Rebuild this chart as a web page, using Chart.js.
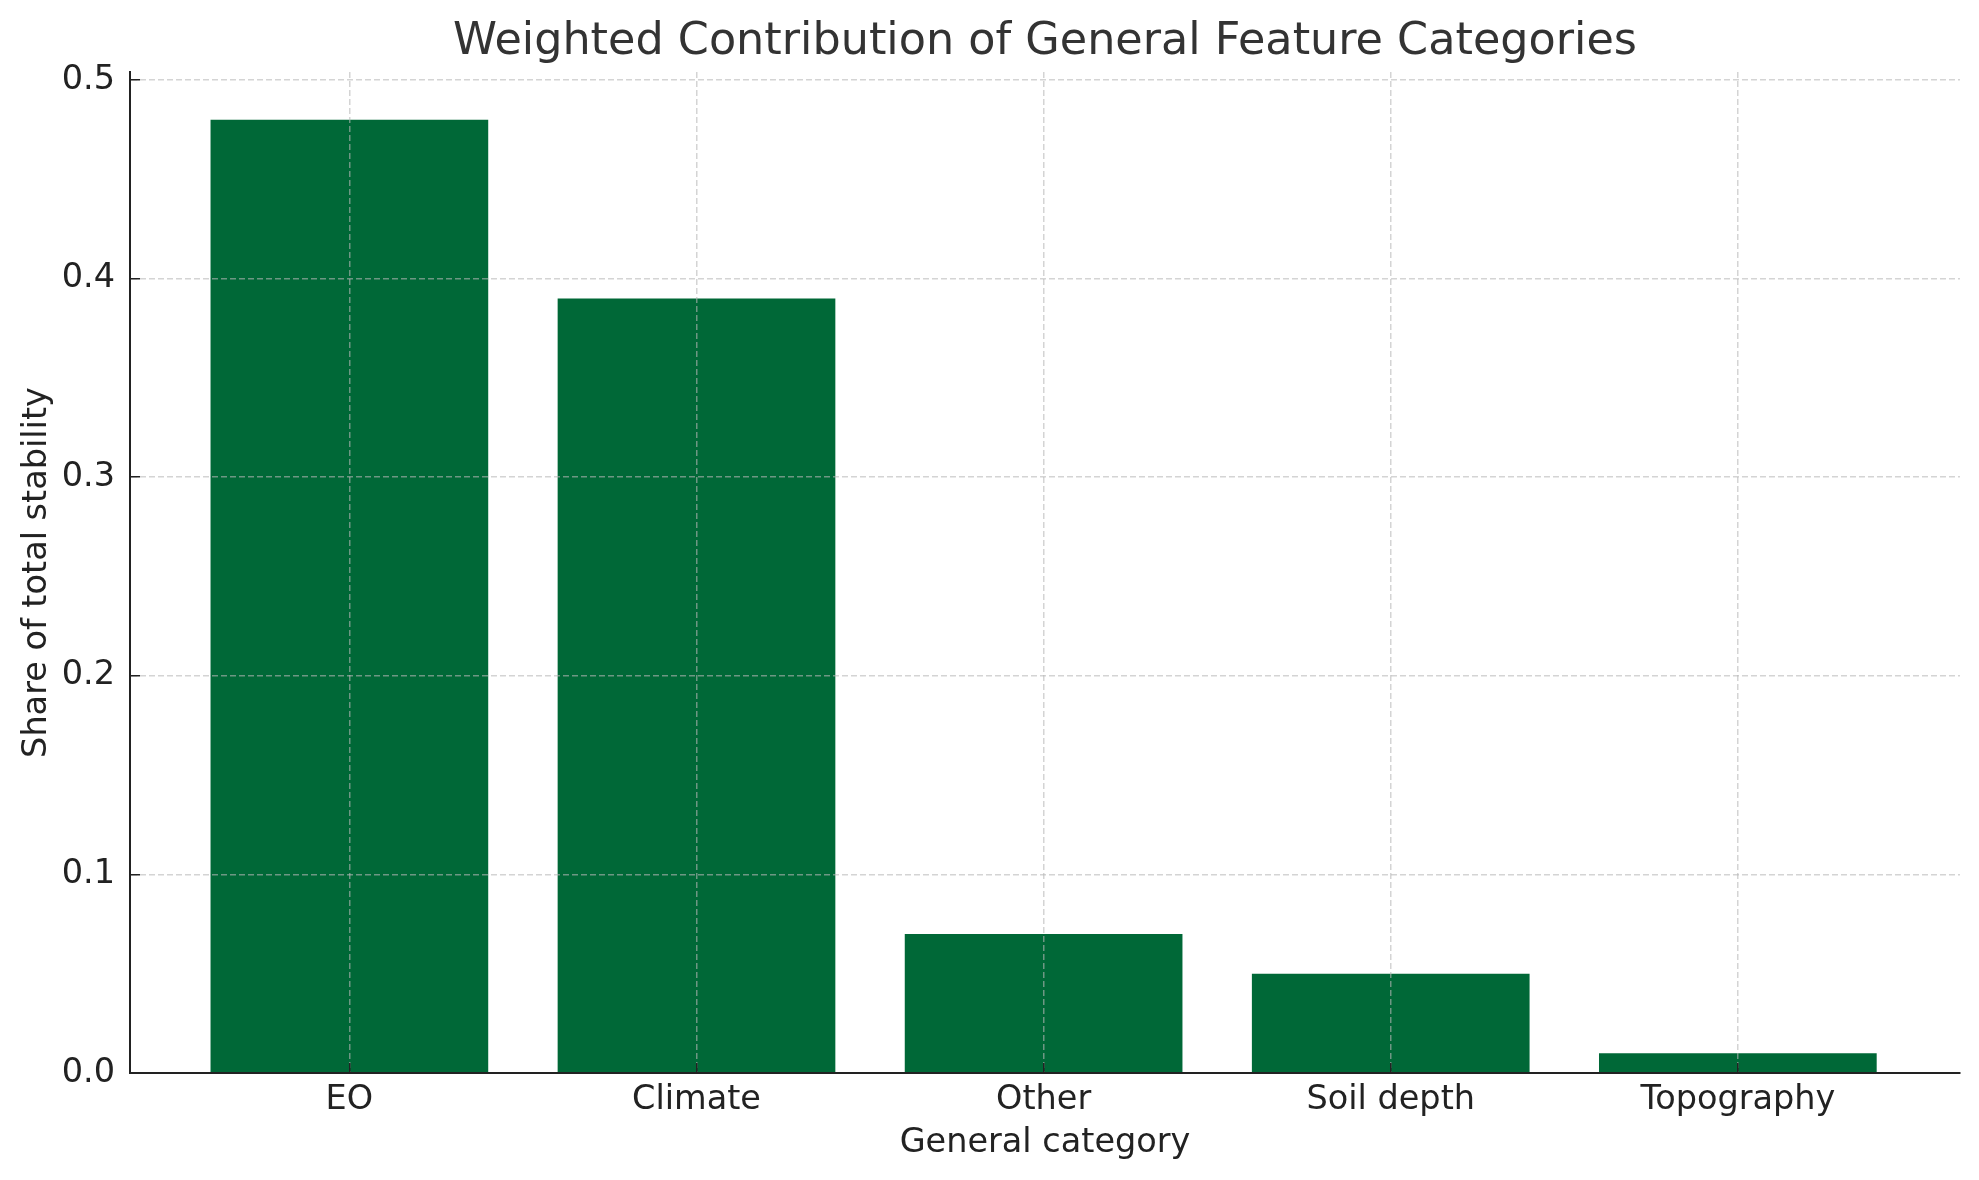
<!DOCTYPE html>
<html>
<head>
<meta charset="utf-8">
<script src="https://cdn.jsdelivr.net/npm/chart.js@4"></script>
<style>
html,body{margin:0;padding:0;background:#fff}
#wrap{width:1979px;height:1180px}
</style>
</head>
<body>
<div id="wrap"><canvas id="c" width="1979" height="1180"></canvas></div>
<script>
const cats = ['EO','Climate','Other','Soil depth','Topography'];
const vals = [0.48, 0.39, 0.07, 0.05, 0.01];
const yTicks = [0, 0.1, 0.2, 0.3, 0.4, 0.5];
const title = 'Weighted Contribution of General Feature Categories';

const FONT = 'DejaVu Sans';
const gridCol = 'rgba(183,183,183,0.6)';

// title centred over the plot area, like matplotlib
const titlePlugin = {
  id:'axTitle',
  afterDraw(ch){
    const a = ch.chartArea, ctx = ch.ctx;
    ctx.save();
    ctx.font = `44.5px "${FONT}"`;
    ctx.fillStyle = '#333';
    ctx.textAlign = 'center';
    ctx.textBaseline = 'alphabetic';
    ctx.fillText(title, (a.left+a.right)/2, a.top-18);
    ctx.restore();
  }
};

new Chart(document.getElementById('c'),{
  type:'bar',
  data:{
    datasets:[{
      data:cats.map((c,i)=>({x:i,y:vals[i]})),
      backgroundColor:'#006837',
      borderWidth:0,
      barPercentage:0.8,
      categoryPercentage:1
    }]
  },
  options:{
    responsive:false,
    animation:false,
    devicePixelRatio:1,
    layout:{padding:{left:0,top:72,right:19,bottom:0}},
    plugins:{legend:{display:false},tooltip:{enabled:false},title:{display:false}},
    scales:{
      x:{
        type:'linear', min:-0.632, max:4.64, offset:false,
        afterBuildTicks(s){ s.ticks = cats.map((c,i)=>({value:i})); },
        afterFit(s){ s.height = 107; },
        ticks:{
          autoSkip:false, maxRotation:0, padding:17, color:'#222',
          font:{family:FONT,size:33.5},
          callback:(v)=>cats[v]
        },
        grid:{z:1,offset:false,color:gridCol,lineWidth:1.5,tickColor:'#222',tickLength:-10,tickWidth:1.5},
        border:{z:2,display:true,color:'#222',width:2,dash:[6,3]},
        title:{display:true,text:'General category',color:'#222',
          font:{family:FONT,size:33.5},padding:{top:0,bottom:16.5}}
      },
      y:{
        min:0, max:0.504,
        afterBuildTicks(s){ s.ticks = yTicks.map(v=>({value:v})); },
        afterFit(s){ s.width = 130; },
        ticks:{
          padding:25, color:'#222',
          font:{family:FONT,size:33.5},
          callback:(v)=>v.toFixed(1)
        },
        grid:{z:1,color:gridCol,lineWidth:1.5,tickColor:'#222',tickLength:-10,tickWidth:1.5},
        border:{z:2,display:true,color:'#222',width:2,dash:[6,3]},
        title:{display:true,text:'Share of total stability',color:'#222',
          font:{family:FONT,size:33.5},padding:{top:17.5,bottom:0}}
      }
    }
  },
  plugins:[titlePlugin]
});
</script>
</body>
</html>
